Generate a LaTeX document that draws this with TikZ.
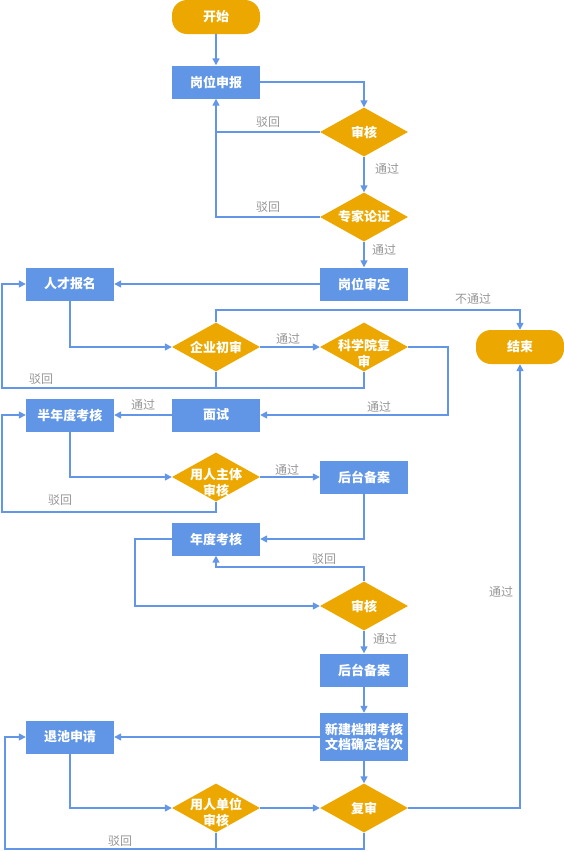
\documentclass[tikz,border=0pt]{standalone}
\usepackage{fontspec}
\setmainfont{Noto Sans CJK SC}
\usepackage{tikz}
\usetikzlibrary{shapes.geometric,arrows.meta}
\definecolor{boxblue}{RGB}{97,150,230}
\definecolor{lineblue}{RGB}{100,150,232}
\definecolor{gold}{RGB}{236,168,0}
\definecolor{lblgray}{RGB}{150,150,150}

\begin{document}
\begin{tikzpicture}[x=1pt, y=-1pt,
    proc/.style={rectangle, fill=boxblue, text=white, font=\bfseries\fontsize{13}{15}\selectfont, minimum width=88pt, minimum height=33pt, inner sep=0pt, align=center},
    term/.style={rectangle, rounded corners=15pt, fill=gold, text=white, font=\bfseries\fontsize{13}{15}\selectfont, minimum width=88pt, minimum height=34pt, inner sep=0pt},
    dec/.style={diamond, aspect=1.8, fill=gold, text=white, font=\bfseries\fontsize{13}{15}\selectfont, minimum width=88pt, minimum height=49pt, inner sep=-6pt, align=center},
    dectxt/.style={text=white, font=\bfseries\fontsize{13}{16}\selectfont, align=center, inner sep=0pt, yshift=-6pt},
    lbl/.style={text=lblgray, font=\fontsize{12}{14}\selectfont},
    link/.style={draw=lineblue, line width=1.5pt},
    arr/.style={link, -{Triangle[length=7pt,width=7pt]}}]
                \useasboundingbox (0,0) rectangle (564,852);

                % Draw nodes for post application
                \node[term] (start) at (216,17) {开始};
                \node[proc] (sb) at (216,82) {岗位申报};
                \node[dec] (sh1) at (364,132) {审核};
                \node[dec] (zj) at (364,217) {专家论证};
                \node[proc] (sd) at (364,284) {岗位审定};

                % Draw nodes for talent selection
                \node[proc] (rc) at (70,284) {人才报名};
                \node[dec] (qy) at (216,347) {企业初审};
                \node[dec, label={[dectxt]center:科学院复\\审}] (kx) at (364,347) {};
                \node[term] (fin) at (520,347) {结束};
                \node[proc] (ms) at (216,415) {面试};
                \node[proc] (bn) at (70,415) {半年度考核};
                \node[dec, label={[dectxt]center:用人主体\\审核}] (yz) at (216,477) {};
                \node[proc] (ht1) at (364,477) {后台备案};

                % Draw nodes for annual review
                \node[proc] (nd) at (216,539) {年度考核};
                \node[dec] (sh2) at (364,606) {审核};
                \node[proc] (ht2) at (364,670) {后台备案};
                \node[proc, minimum height=48pt] (xj) at (364,737) {新建档期考核\\文档确定档次};
                \node[proc] (tc) at (70,737) {退池申请};
                \node[dec, label={[dectxt, yshift=2pt]center:用人单位\\审核}] (yd) at (216,808) {};
                \node[dec] (fs) at (364,808) {复审};

                % Corner points of the loops
                \coordinate (nt) at (216,310);
                \coordinate (ke) at (448,415);
                \coordinate (bk1) at (2,388);
                \coordinate (bk2) at (2,512);
                \coordinate (bk3) at (135,606);
                \coordinate (bk4) at (364,567);
                \coordinate (bk5) at (5,849);

                % Draw all edges
                \draw[arr] (start) -- (sb);
                \draw[arr] (sb.east) -| (sh1.north);
                \draw[arr] (sh1.west) -| (sb.south); % 驳回
                \draw[arr] (sh1) -- (zj);
                \draw[link] (zj.west) -| (sb.south |- sh1.west); % 驳回
                \draw[arr] (zj) -- (sd);
                \draw[arr] (sd) -- (rc);
                \draw[arr] (rc.south) |- (qy.west);
                \draw[arr] (qy) -- (kx);
                \draw[arr] (qy.north) -- (nt) -| (fin.north); % 不通过
                \draw[arr] (kx.south) |- (bk1) |- (rc.west); % 驳回
                \draw[link] (qy.south) -- (qy.south |- bk1);
                \draw[arr] (kx.east) -| (ke) -- (ms.east);
                \draw[arr] (ms) -- (bn);
                \draw[arr] (bn.south) |- (yz.west);
                \draw[arr] (yz) -- (ht1);
                \draw[arr] (yz.south) |- (bk2) |- (bn.west); % 驳回
                \draw[arr] (ht1.south) |- (nd.east);
                \draw[arr] (nd.west) -| (bk3) -- (sh2.west);
                \draw[arr] (sh2.north) -- (bk4) -| (nd.south); % 驳回
                \draw[arr] (sh2) -- (ht2);
                \draw[arr] (ht2) -- (xj);
                \draw[arr] (xj) -- (tc);
                \draw[arr] (tc.south) |- (yd.west);
                \draw[arr] (yd) -- (fs);
                \draw[arr] (xj) -- (fs);
                \draw[arr] (fs.east) -| (fin.south); % 通过
                \draw[arr] (fs.south) |- (bk5) |- (tc.west); % 驳回
                \draw[link] (yd.south) -- (yd.south |- bk5);

                % Edge labels
                \node[lbl] (l1) at (268,122) {驳回};
                \node[lbl] (l2) at (387,169) {通过};
                \node[lbl] (l3) at (268,207) {驳回};
                \node[lbl] (l4) at (384,250) {通过};
                \node[lbl] (l5) at (473,299) {不通过};
                \node[lbl] (l6) at (288,339) {通过};
                \node[lbl] (l7) at (41,379) {驳回};
                \node[lbl] (l8) at (379,407) {通过};
                \node[lbl] (l9) at (143,405) {通过};
                \node[lbl] (l10) at (287,470) {通过};
                \node[lbl] (l11) at (60,500) {驳回};
                \node[lbl] (l12) at (324,559) {驳回};
                \node[lbl] (l13) at (385,639) {通过};
                \node[lbl] (l14) at (501,592) {通过};
                \node[lbl] (l15) at (120,841) {驳回};
            \end{tikzpicture}
\end{document}
